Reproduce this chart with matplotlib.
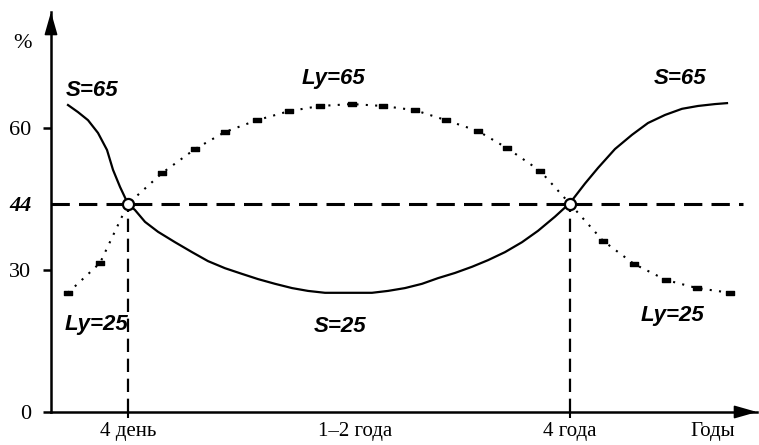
import matplotlib
matplotlib.use('Agg')
import matplotlib.pyplot as plt
from matplotlib.path import Path

# S curve (solid)
s_x = [68, 78, 88, 98, 107, 113, 120, 128, 135, 145, 158, 175, 192, 208, 225,
       242, 258, 275, 292, 308, 325, 342, 358, 372, 388, 405, 422, 438, 455,
       472, 488, 505, 522, 538, 555, 570, 585, 598, 615, 632, 648, 665, 682,
       698, 715, 727]
s_y = [64.9, 63.4, 61.7, 59.0, 55.4, 51.2, 47.6, 44.0, 42.7, 40.2, 38.1, 35.9,
       33.8, 31.9, 30.4, 29.2, 28.1, 27.1, 26.2, 25.6, 25.2, 25.2, 25.2, 25.2,
       25.6, 26.2, 27.1, 28.3, 29.4, 30.7, 32.1, 33.8, 35.9, 38.3, 41.3, 44.2,
       48.3, 51.6, 55.6, 58.6, 61.1, 62.8, 64.1, 64.7, 65.1, 65.3]

# Ly curve (dotted, with dash marks)
ly_x = [68, 100, 128, 162, 195, 225, 257, 289, 320, 352, 383, 415, 446, 478,
        507, 540, 570, 603, 634, 666, 697, 730]
ly_y = [25.2, 31.5, 44.0, 50.5, 55.6, 59.2, 61.7, 63.6, 64.7, 65.1, 64.7, 63.8,
        61.7, 59.4, 55.8, 51.0, 44.0, 36.2, 31.3, 27.9, 26.2, 25.2]

level = 44
cross_x = [128, 570]
y_ticks = [0, 30, 44, 60]
y_labels = ['0', '30', '44', '60']
x_ticks = [128, 355, 570, 713]
x_labels = ['4 день', '1–2 года', '4 года', 'Годы']

labels = [('S=65', 92, 68), ('Ly=65', 333, 70.5), ('S=65', 680, 70.5),
          ('Ly=25', 96, 18.4), ('S=25', 340, 18.0), ('Ly=25', 672, 20.5)]

fig = plt.figure(figsize=(7.59, 4.45), dpi=100)
ax = fig.add_axes([51 / 759, 33 / 445, 706 / 759, 400 / 445])
ax.set_xlim(51, 757)
ax.set_ylim(0, 400 / 4.73)

for sp in ['top', 'right']:
    ax.spines[sp].set_visible(False)
for sp in ['left', 'bottom']:
    ax.spines[sp].set_linewidth(1.8)

# arrow heads on the axes
arrow = dict(arrowstyle='-|>,head_length=0.7,head_width=0.2', color='k', lw=1.2,
             shrinkA=0, shrinkB=0, mutation_scale=20)
ax.annotate('', xy=(0, 1.0), xytext=(0, 0.97), xycoords='axes fraction',
            arrowprops=arrow, annotation_clip=False)
ax.annotate('', xy=(1.0, 0), xytext=(0.98, 0), xycoords='axes fraction',
            arrowprops=arrow, annotation_clip=False)

# ticks
ax.set_yticks(y_ticks)
ax.set_yticklabels(y_labels, family='Liberation Serif', fontsize=16)
ax.tick_params(axis='y', length=6, width=1.8, pad=8)
for t, lab in zip(ax.yaxis.get_major_ticks(), y_labels):
    if lab == '44':
        t.tick1line.set_visible(False)
        t.label1.set_fontweight('bold')
        t.label1.set_fontstyle('italic')

ax.set_xticks(x_ticks)
ax.set_xticklabels(x_labels, family='Liberation Serif', fontsize=15)
ax.tick_params(axis='x', length=4, width=1.5, pad=3)
for t, lab in zip(ax.xaxis.get_major_ticks(), x_labels):
    if lab in ('1–2 года', 'Годы'):
        t.tick1line.set_visible(False)

fig.text(22 / 759, 1 - 43 / 445, '%', family='Liberation Serif', fontsize=16,
         ha='center', va='center')

# reference lines
ax.axhline(level, xmin=0, xmax=(743 - 51) / 706, color='k', lw=2.2,
           dashes=(6, 3), zorder=2)
for cx in cross_x:
    ax.plot([cx, cx], [0, level], color='k', lw=1.6, dashes=(6, 3), zorder=2)

# curves
ax.plot(s_x, s_y, color='k', lw=1.6, zorder=3)
ax.plot(ly_x, ly_y, color='k', lw=1.5, linestyle=(0, (1, 3.5)), zorder=3)
rect = Path([(-1, -0.55), (1, -0.55), (1, 0.55), (-1, 0.55), (-1, -0.55)],
            [Path.MOVETO, Path.LINETO, Path.LINETO, Path.LINETO, Path.CLOSEPOLY])
mk = [i for i, x in enumerate(ly_x) if x not in cross_x]
ax.plot([ly_x[i] for i in mk], [ly_y[i] for i in mk], linestyle='none',
        marker=rect, markersize=6, color='k', zorder=3)

ax.plot(cross_x, [level, level], linestyle='none', marker='o', markersize=8,
        markerfacecolor='white', markeredgecolor='k', markeredgewidth=1.6, zorder=4)

for txt, x, y in labels:
    ax.text(x, y, txt, family='Liberation Sans', fontweight='bold', fontstyle='italic',
            fontsize=16, ha='center', va='center')

fig.savefig('out.png', dpi=100)
